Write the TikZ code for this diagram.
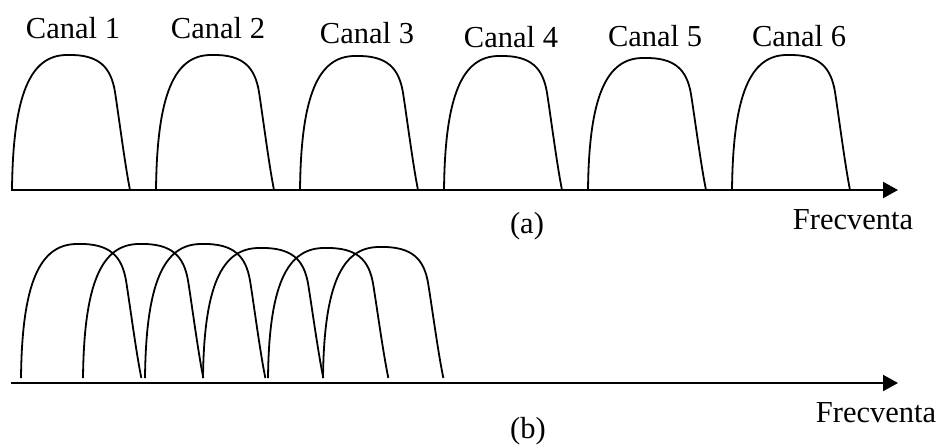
\documentclass[tikz,border=0pt]{standalone}
\usepackage{fontspec}
\setmainfont{Liberation Serif}
\usetikzlibrary{arrows.meta}

\begin{document}
\begin{tikzpicture}[x=0.5pt, y=0.5pt, >={Triangle[length=7.5pt, width=8pt]}]
    % --- Estilos ---
    \tikzset{
        curva/.style={line width=0.9pt, line join=round},
        eje/.style={line width=1.1pt, ->},
        etiqueta/.style={anchor=base, inner sep=0pt, font=\fontsize{15.25}{18}\selectfont}
    }
    \useasboundingbox (0,0) rectangle (941,447);

    % --- Coordenadas de los ejes ---
    \coordinate (A0) at (11,257);
    \coordinate (A1) at (898,257);
    \coordinate (B0) at (11,64);
    \coordinate (B1) at (898,64);

    % --- (a) Canales separados ---
    \foreach \x/\h in {12/135,156/135,300/134,444/134,588/132,732/135} {
        \draw[curva, shift={(\x,257)}, yscale=\h/135]
            (0,0) .. controls (1,95) and (18,135) .. (55,135)
            .. controls (88,136) and (99,122) .. (103,98)
            .. controls (107,72) and (113,25) .. (118,0);
    }
    \draw[eje] (A0) -- (A1);

    % Etiquetas de los canales
    \foreach \n/\x/\y in {1/73/409,2/218/409,3/367/404,4/511/400,5/655/401,6/799/401} {
        \node[etiqueta] (c\n) at (\x,\y) {Canal \n};
    }
    \node[etiqueta] (lblA) at (527,214) {(a)};
    \node[etiqueta] (frecA) at (853,218) {Frecventa};

    % --- (b) Canales superpuestos ---
    \foreach \x/\h in {21/134,83/134,145/134,203/130,268/130,323/131} {
        \draw[curva, shift={(\x,69)}, xscale=1.02, yscale=\h/135]
            (0,0) .. controls (1,95) and (18,135) .. (55,135)
            .. controls (88,136) and (99,122) .. (103,98)
            .. controls (107,72) and (113,25) .. (118,0);
    }
    \draw[eje] (B0) -- (B1);

    \node[etiqueta] (lblB) at (528,9) {(b)};
    \node[etiqueta] (frecB) at (876,25) {Frecventa};

\end{tikzpicture}
\end{document}
